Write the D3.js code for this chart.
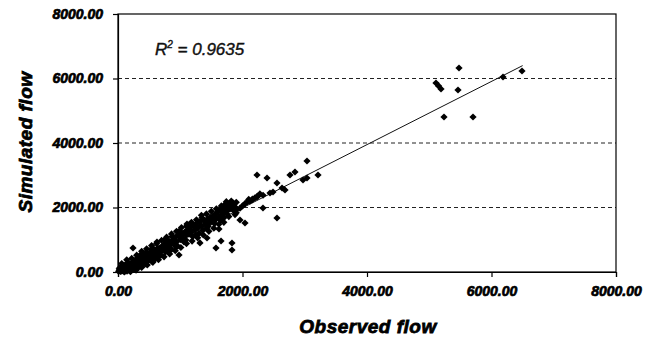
<!DOCTYPE html>
<html>
<head>
<meta charset="utf-8">
<script src="https://cdn.jsdelivr.net/npm/d3@7/dist/d3.min.js"></script>
<style>
  body { margin: 0; background: #fff; }
  text { font-family: "Liberation Sans", Arial, sans-serif; }
</style>
</head>
<body>
<div id="chart"></div>
<script>
// observed vs simulated flow
const xTicks = [0, 2000, 4000, 6000, 8000];
const yTicks = [0, 2000, 4000, 6000, 8000];
const gridLevels = [2000, 4000, 6000];
const rSquared = '0.9635';
const trendLine = [[0, 30], [6500, 6400]];

// dense band, 0 - 2300
const bandPoints = [
  [10,20],[25,60],[40,15],[55,90],[70,40],[85,120],[100,60],[115,150],[130,90],[145,30],
  [160,180],[175,110],[190,220],[205,140],[220,70],[235,250],[250,170],[265,300],[280,200],[295,120],
  [30,130],[60,170],[90,200],[120,230],[150,100],[180,50],[210,260],[240,130],[270,350],[300,240],
  [20,100],[50,30],[80,150],[110,20],[140,210],[170,280],[200,90],[230,190],[260,80],[290,310],
  [320,330],[340,230],[360,420],[380,300],[400,470],[420,360],[440,250],[460,520],[480,400],[500,580],
  [520,450],[540,340],[560,620],[580,500],[600,680],[620,560],[640,450],[660,740],[680,610],[700,790],
  [350,510],[410,560],[470,320],[530,700],[590,390],[650,620],[330,140],[450,610],[570,720],[690,520],
  [370,380],[430,430],[490,510],[550,560],[610,600],[670,660],[310,420],[390,200],[510,380],[630,720],
  [720,700],[740,840],[760,620],[780,900],[800,760],[820,960],[840,830],[860,700],[880,1000],[900,880],
  [920,1070],[940,940],[960,800],[980,1120],[1000,1000],[1020,1200],[1040,1060],[1060,930],[1080,1250],[1100,1140],
  [750,1000],[810,650],[870,1100],[930,780],[990,1280],[1050,1190],[1090,990],[770,760],[890,920],[1010,1080],
  [1120,1300],[1140,1170],[1160,1380],[1180,1230],[1200,1100],[1220,1440],[1240,1310],[1260,1500],[1280,1370],[1300,1200],
  [1320,1560],[1340,1420],[1360,1290],[1380,1600],[1400,1480],[1420,1350],[1440,1650],[1460,1520],[1480,1700],[1500,1560],
  [1150,1480],[1250,1150],[1350,1680],[1450,1420],[1130,1230],[1230,1380],[1330,1450],[1430,1560],
  [1520,1720],[1540,1600],[1560,1790],[1580,1650],[1600,1850],[1620,1700],[1640,1900],[1660,1760],[1680,1950],[1700,1820],
  [1720,2000],[1740,1880],[1760,2060],[1780,1940],[1800,2100],[1820,1980],[1840,2050],[1860,1900],[1880,2010],[1900,1840],
  [1720,2100],[1760,2130],[1800,1960],[1840,2150],[1700,1680],[1750,1800],[1860,2080],[1910,1950],[1650,1600],[1550,1500],
  [1960,1980],[2000,2050],[2040,2120],[2080,2180],[2120,2200],[2160,2260],[2200,2300],[2240,2350],[2280,2420],[2100,2250]
];

// upper and lower edges of the band, which make it look thick
const bandEdgePoints = [
  [60,260],[140,380],[220,420],[300,520],[380,640],[460,720],[540,820],[620,880],[700,980],[780,1080],
  [860,1180],[940,1260],[1020,1380],[1100,1420],[1180,1540],[1260,1620],[1340,1760],[1420,1800],[1500,1880],[1580,1960],
  [1660,2050],[1740,2180],[1820,2200],[1900,2160],[100,-40],[200,10],[290,60],[380,140],[470,220],[560,300],
  [650,380],[740,470],[830,560],[920,660],[1010,760],[1100,880],[1190,960],[1280,1060],[1370,1150],[1460,1260],
  [1540,1360],[1620,1480],[1700,1540],[1780,1720],[1880,1780],[420,520],[580,610],[760,880],[960,1140],[1160,1300]
];

// scattered points off the band
const outlierPoints = [
  [241,744],[626,930],[1108,1488],[1317,900],[1430,1054],[1574,744],[1655,961],[1831,899],
  [1831,682],[1622,1333],[2040,1519],[2329,1984],[2554,1674],[980,527],[1960,1612]
];

// upper part of the cloud, 2100 - 3300
const upperPoints = [
  [2233,3008],[2394,2915],[2763,3008],[2843,3101],[3213,3008],[2972,2853],[3036,2915],[3036,3442],
  [2554,2760],[2635,2605],[2442,2450],[2683,2543],[2490,2481],[2233,2326],[2153,2233],[2330,2380]
];

// highest flows
const highFlowPoints = [
  [5478,6326],[5108,5860],[5150,5770],[5189,5674],[5462,5643],[5237,4806],[5703,4806],[6185,6046],[6490,6233]
];

const allPoints = [...bandPoints, ...bandEdgePoints, ...outlierPoints, ...upperPoints, ...highFlowPoints];

const W = 657, H = 338;
const margin = {top: 14, right: 41, bottom: 66, left: 118};
const width = W - margin.left - margin.right;
const height = H - margin.top - margin.bottom;

const svg = d3.select('#chart').append('svg')
  .attr('width', W)
  .attr('height', H);

const g = svg.append('g')
  .attr('transform', `translate(${margin.left},${margin.top})`);

const x = d3.scaleLinear().domain([0, 8000]).range([0, width]);
const y = d3.scaleLinear().domain([0, 8000]).range([height, 0]);

// dashed grid
g.selectAll('.grid')
  .data(gridLevels)
  .enter().append('line')
    .attr('class', 'grid')
    .attr('x1', 0).attr('x2', width)
    .attr('y1', d => y(d)).attr('y2', d => y(d))
    .attr('stroke', '#222')
    .attr('stroke-width', 1)
    .attr('stroke-dasharray', '4,3');

// frame
g.append('rect')
  .attr('width', width).attr('height', height)
  .attr('fill', 'none')
  .attr('stroke', '#000')
  .attr('stroke-width', 1.2);

const fmt = d3.format('.2f');

const xAxis = g.append('g')
  .attr('transform', `translate(0,${height})`)
  .call(d3.axisBottom(x).tickValues(xTicks).tickFormat(fmt).tickSize(5).tickPadding(9));

const yAxis = g.append('g')
  .call(d3.axisLeft(y).tickValues(yTicks).tickFormat(fmt).tickSize(5).tickPadding(10));

[xAxis, yAxis].forEach(ax => {
  ax.select('.domain').attr('stroke', '#000').attr('stroke-width', 1.2);
  ax.selectAll('.tick line').attr('stroke', '#000').attr('stroke-width', 1.2);
  ax.selectAll('.tick text')
    .attr('fill', '#000')
    .attr('stroke', '#000')
    .attr('stroke-width', 0.7)
    .style('font-family', '"Liberation Sans", Arial, sans-serif')
    .style('font-size', '14px')
    .style('font-weight', 'bold')
    .style('font-style', 'italic');
});

// trend line
g.append('line')
  .attr('x1', x(trendLine[0][0])).attr('y1', y(trendLine[0][1]))
  .attr('x2', x(trendLine[1][0])).attr('y2', y(trendLine[1][1]))
  .attr('stroke', '#111')
  .attr('stroke-width', 1);

// diamonds
const diamond = d3.symbol().type(d3.symbolSquare).size(26);
g.selectAll('.pt')
  .data(allPoints)
  .enter().append('path')
    .attr('class', 'pt')
    .attr('d', diamond)
    .attr('transform', d => `translate(${x(d[0])},${y(Math.max(d[1], 0))}) rotate(45)`)
    .attr('fill', '#000');

// R2 label
const r2 = svg.append('text')
  .attr('x', 155)
  .attr('y', 55)
  .attr('fill', '#111')
  .attr('stroke', '#111')
  .attr('stroke-width', 0.4)
  .style('font-size', '17px')
  .style('font-style', 'italic');
r2.append('tspan').text('R');
r2.append('tspan').attr('dy', -7).style('font-size', '10px').text('2');
r2.append('tspan').attr('dy', 7).text(` = ${rSquared}`);

// axis titles
svg.append('text')
  .attr('x', 368)
  .attr('y', 333)
  .attr('text-anchor', 'middle')
  .attr('stroke', '#000')
  .attr('stroke-width', 0.8)
  .style('font-size', '19px')
  .style('font-weight', 'bold')
  .style('font-style', 'italic')
  .style('letter-spacing', '0.5px')
  .text('Observed flow');

svg.append('text')
  .attr('transform', 'translate(32,142) rotate(-90)')
  .attr('text-anchor', 'middle')
  .attr('stroke', '#000')
  .attr('stroke-width', 0.8)
  .style('font-size', '19px')
  .style('font-weight', 'bold')
  .style('font-style', 'italic')
  .style('letter-spacing', '0.5px')
  .text('Simulated flow');
</script>
</body>
</html>
